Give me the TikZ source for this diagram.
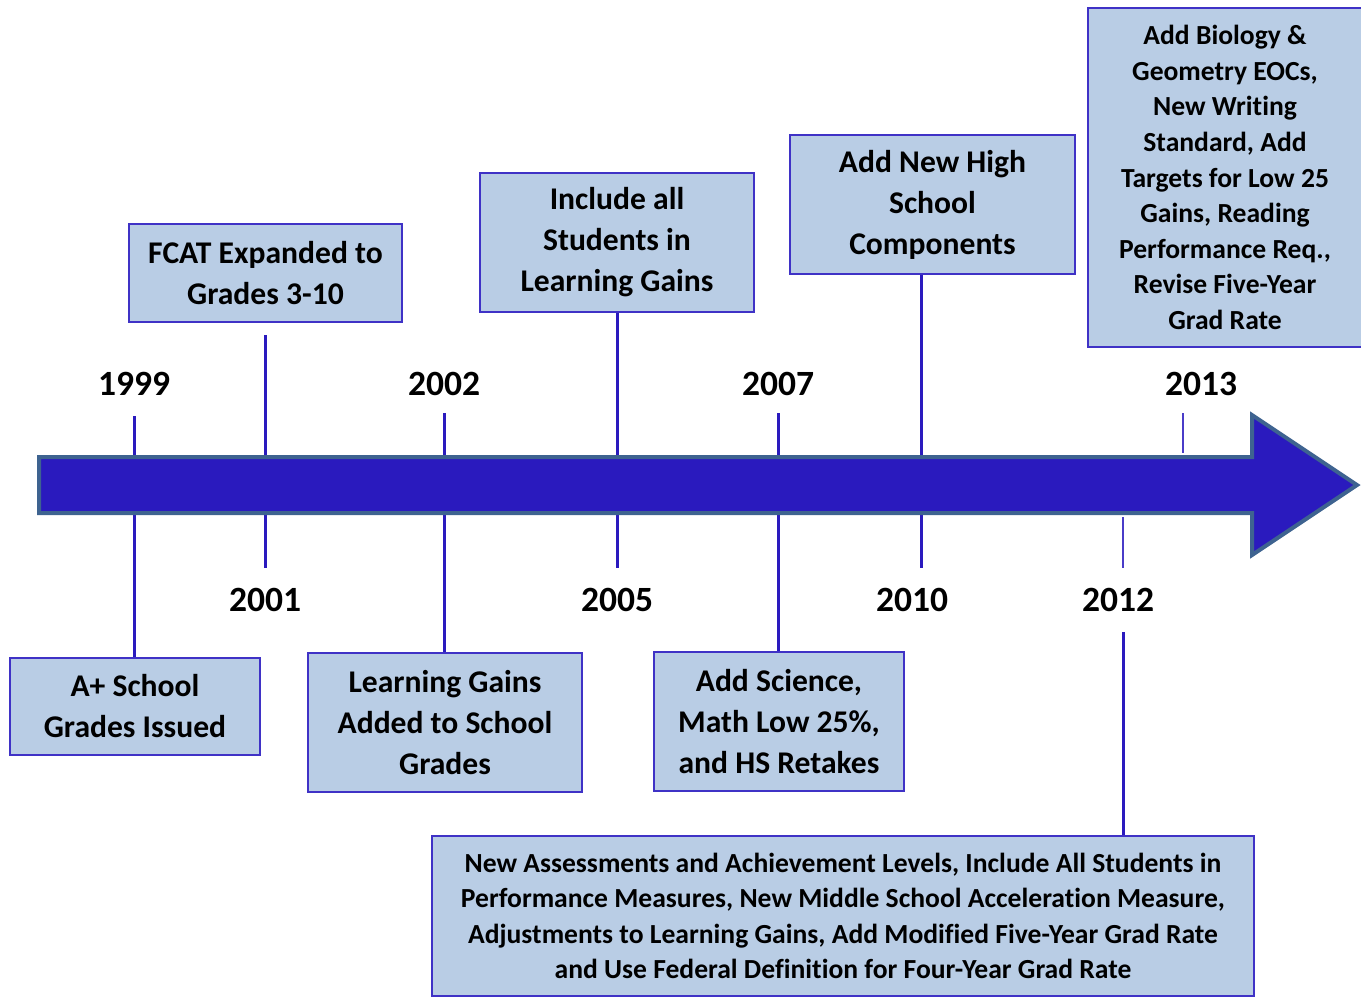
\documentclass[tikz,border=0pt]{standalone}
\usepackage{fontspec}
\setmainfont{Carlito}[Ligatures=NoCommon]
\definecolor{arrowfill}{HTML}{2A1ABE}
\definecolor{arrowedge}{HTML}{3E6390}
\definecolor{boxfill}{HTML}{B9CDE5}
\definecolor{boxedge}{HTML}{3F32C6}
\definecolor{conn}{HTML}{2A1ABE}
\definecolor{thinconn}{HTML}{4A3CC8}
\tikzset{
  evbox/.style={draw=boxedge, line width=1.5pt, fill=boxfill, align=center,
    inner sep=0pt, font=\fontsize{31.6}{41}\selectfont\bfseries},
  smallbox/.style={evbox, font=\fontsize{27.6}{35.6}\selectfont\bfseries},
  yearlbl/.style={font=\fontsize{35.5}{42}\selectfont\bfseries, inner sep=0pt},
  connline/.style={draw=conn, line width=3pt},
  thinline/.style={draw=thinconn, line width=1.6pt},
  timearrow/.style={draw=arrowedge, fill=arrowfill, line width=4pt, line join=miter}
}
\begin{document}
\begin{tikzpicture}[x=1pt,y=-1pt]
\useasboundingbox (0,0) rectangle (1361,997);

% boxes
\node[evbox, minimum width=250pt, minimum height=97pt] (b1999) at (135,706.5) {A+ School\\Grades Issued};
\node[evbox, minimum width=273pt, minimum height=98pt] (b2001) at (265.5,273) {FCAT Expanded to\\Grades 3-10};
\node[evbox, minimum width=274pt, minimum height=139pt] (b2002) at (445,722.5) {Learning Gains\\Added to School\\Grades};
\node[evbox, minimum width=274pt, minimum height=139pt] (b2005) at (617,242.5) {Include all\\Students in\\Learning Gains};
\node[evbox, minimum width=250pt, minimum height=139pt] (b2007) at (779,721.5) {Add Science,\\Math Low 25\%,\\and HS Retakes};
\node[evbox, minimum width=285pt, minimum height=139pt] (b2010) at (932.5,204.5) {Add New High\\School\\Components};
\node[smallbox, minimum width=822pt, minimum height=160pt] (b2012) at (843,916) {New Assessments and Achievement Levels, Include All Students in\\Performance Measures, New Middle School Acceleration Measure,\\Adjustments to Learning Gains, Add Modified Five-Year Grad Rate\\and Use Federal Definition for Four-Year Grad Rate};
\node[smallbox, minimum width=274pt, minimum height=339pt] (b2013) at (1225,177.5) {Add Biology \&\\Geometry EOCs,\\New Writing\\Standard, Add\\Targets for Low 25\\Gains, Reading\\Performance Req.,\\Revise Five-Year\\Grad Rate};

% year labels
\node[yearlbl] (y1999) at (134,384) {1999};
\node[yearlbl] (y2002) at (444,384) {2002};
\node[yearlbl] (y2007) at (778,384) {2007};
\node[yearlbl] (y2013) at (1201,384) {2013};
\node[yearlbl] (y2001) at (265,600) {2001};
\node[yearlbl] (y2005) at (617,600) {2005};
\node[yearlbl] (y2010) at (912,600) {2010};
\node[yearlbl] (y2012) at (1118,600) {2012};

% connector end points
\coordinate (t1999) at (134,416);
\coordinate (t2001a) at (265,335);
\coordinate (t2001b) at (265,568);
\coordinate (t2002) at (444,413);
\coordinate (t2005) at (617,568);
\coordinate (t2007) at (778,413);
\coordinate (t2010) at (921,568);
\coordinate (t2012a) at (1123,517);
\coordinate (t2012b) at (1123,568);
\coordinate (t2012c) at (1123,632);
\coordinate (t2013a) at (1183,413);
\coordinate (t2013b) at (1183,453);

% connectors
\draw[connline] (t1999) -- (t1999 |- b1999.north);
\draw[connline] (t2001a) -- (t2001b);
\draw[connline] (t2002) -- (t2002 |- b2002.north);
\draw[connline] (t2005 |- b2005.south) -- (t2005);
\draw[connline] (t2007) -- (t2007 |- b2007.north);
\draw[connline] (t2010 |- b2010.south) -- (t2010);
\draw[thinline] (t2012a) -- (t2012b);
\draw[connline] (t2012c) -- (t2012c |- b2012.north);
\draw[thinline] (t2013a) -- (t2013b);

% timeline arrow
\draw[timearrow] (39,457) -- (1252,457) -- (1252,415) -- (1357,485) -- (1252,555) -- (1252,513) -- (39,513) -- cycle;
\end{tikzpicture}
\end{document}
